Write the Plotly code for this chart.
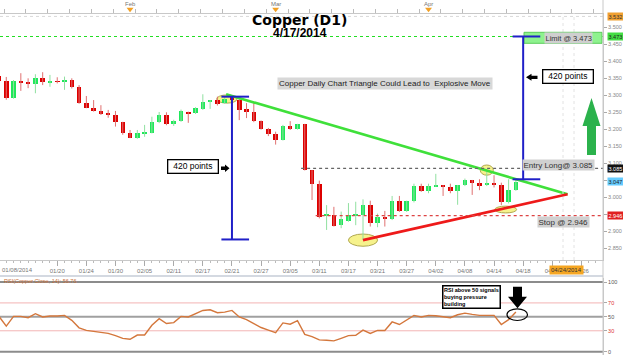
import plotly.graph_objects as go

# ---------------- data ----------------
dates = ["01/08", "01/09", "01/10", "01/13", "01/14", "01/15", "01/16", "01/17",
         "01/20", "01/21", "01/22", "01/23", "01/24", "01/27", "01/28", "01/29", "01/30", "01/31",
         "02/03", "02/04", "02/05", "02/06", "02/07", "02/10", "02/11", "02/12", "02/13", "02/14",
         "02/17", "02/18", "02/19", "02/20", "02/21", "02/24", "02/25", "02/26", "02/27", "02/28",
         "03/03", "03/04", "03/05", "03/06", "03/07", "03/10", "03/11", "03/12", "03/13", "03/14",
         "03/17", "03/18", "03/19", "03/20", "03/21", "03/24", "03/25", "03/26", "03/27", "03/28", "03/31",
         "04/01", "04/02", "04/03", "04/04", "04/07", "04/08", "04/09", "04/10", "04/11",
         "04/14", "04/15", "04/16", "04/17"]

opens = [3.358, 3.342, 3.293, 3.342, 3.338, 3.332, 3.352, 3.338, 3.342, 3.340,
         3.345, 3.324, 3.278, 3.262, 3.254, 3.247, 3.242, 3.222, 3.190, 3.175,
         3.188, 3.188, 3.221, 3.242, 3.217, 3.224, 3.252, 3.248, 3.260, 3.281,
         3.286, 3.278, 3.296, 3.286, 3.260, 3.250, 3.224, 3.201, 3.187, 3.169,
         3.211, 3.200, 3.215, 3.080, 3.039, 2.945, 2.948, 2.919, 2.931, 2.946,
         2.948, 2.977, 2.924, 2.943, 2.936, 2.989, 2.960, 2.989, 3.033, 3.019,
         3.033, 3.036, 3.029, 3.019, 3.036, 3.051, 3.041, 3.037, 3.041, 3.036,
         2.987, 3.021]
highs = [3.371, 3.354, 3.345, 3.365, 3.350, 3.362, 3.368, 3.360, 3.353, 3.355,
         3.350, 3.330, 3.298, 3.286, 3.271, 3.257, 3.254, 3.222, 3.198, 3.198,
         3.213, 3.237, 3.251, 3.250, 3.228, 3.258, 3.252, 3.265, 3.303, 3.286,
         3.296, 3.298, 3.300, 3.291, 3.277, 3.277, 3.226, 3.204, 3.193, 3.213,
         3.224, 3.216, 3.216, 3.080, 3.049, 2.977, 2.972, 2.958, 2.983, 2.987,
         2.994, 2.990, 2.952, 2.960, 3.004, 3.004, 2.990, 3.040, 3.040, 3.040,
         3.069, 3.036, 3.040, 3.036, 3.055, 3.051, 3.053, 3.075, 3.065, 3.043,
         3.053, 3.051]
lows = [3.342, 3.287, 3.290, 3.313, 3.321, 3.306, 3.330, 3.325, 3.335, 3.316,
        3.320, 3.275, 3.262, 3.252, 3.242, 3.234, 3.208, 3.184, 3.174, 3.172,
        3.178, 3.188, 3.218, 3.212, 3.210, 3.222, 3.219, 3.245, 3.257, 3.260,
        3.270, 3.275, 3.282, 3.227, 3.233, 3.221, 3.199, 3.180, 3.155, 3.167,
        3.198, 3.199, 3.079, 2.992, 2.938, 2.904, 2.914, 2.909, 2.928, 2.918,
        2.874, 2.914, 2.912, 2.914, 2.933, 2.957, 2.957, 2.985, 3.016, 3.012,
        3.031, 3.004, 3.012, 2.978, 3.033, 3.007, 3.021, 3.033, 3.029, 2.977,
        2.982, 3.019]
closes = [3.342, 3.291, 3.342, 3.338, 3.332, 3.352, 3.338, 3.342, 3.340, 3.345,
          3.324, 3.278, 3.262, 3.254, 3.246, 3.241, 3.222, 3.188, 3.175, 3.190,
          3.193, 3.221, 3.242, 3.216, 3.225, 3.254, 3.247, 3.262, 3.281, 3.286,
          3.274, 3.288, 3.286, 3.257, 3.250, 3.224, 3.201, 3.187, 3.169, 3.211,
          3.200, 3.215, 3.080, 3.039, 2.943, 2.950, 2.916, 2.935, 2.948, 2.950,
          2.977, 2.924, 2.943, 2.936, 2.989, 2.960, 2.989, 3.033, 3.019, 3.033,
          3.036, 3.029, 3.019, 3.036, 3.051, 3.041, 3.036, 3.041, 3.038, 2.987,
          3.021, 3.046]
rsi = [50.7, 36.6, 50.7, 50.7, 48.8, 54.5, 49.8, 51.2, 51.2, 52.1,
       45.0, 34.3, 30.5, 29.1, 27.7, 26.3, 23.0, 19.2, 17.8, 23.9,
       23.9, 38.0, 47.4, 40.4, 41.8, 50.7, 49.8, 54.5, 59.2, 60.1,
       55.9, 56.8, 59.2, 49.8, 46.0, 40.4, 34.7, 31.0, 27.2, 41.3,
       39.4, 44.6, 24.9, 21.6, 16.9, 16.4, 15.5, 19.2, 23.0, 23.5,
       31.0, 26.3, 30.5, 30.5, 42.7, 39.0, 45.0, 52.1, 49.8, 52.1,
       51.6, 50.7, 48.8, 53.0, 55.4, 53.5, 52.1, 52.1, 52.1, 39.0,
       46.0, 56.8]

date_tick_idx = [8, 12, 16, 20, 24, 28, 32, 36, 40, 44, 48, 52, 56, 60, 64, 68, 72, 76, 80]
date_tick_text = ["01/20", "01/24", "01/30", "02/05", "02/11", "02/17", "02/21", "02/27",
                  "03/05", "03/11", "03/17", "03/21", "03/27", "04/02", "04/08", "04/14",
                  "04/18", "04/22", "04/26"]
month_names = ["Feb", "Mar", "Apr"]
month_idx = [18, 38, 59]

price_ticks = [2.85, 2.90, 2.95, 3.00, 3.05, 3.10, 3.15, 3.20, 3.25, 3.30, 3.35, 3.40, 3.45, 3.50]
rsi_ticks = [0, 30, 50, 70, 100]

top_level = 3.532
limit_level = 3.473
entry_level = 3.085
stop_level = 2.946
last_level = 3.047
measured_move = 0.42

upper_start = (31.2, 3.303)
apex = (78.1, 3.009)
lower_start = (50.0, 2.874)
left_move_x, left_move_top = 32.0, 3.296
right_move_x = 72.0
cursor_idx = 78

# ---------------- layout geometry ----------------
W, H = 623, 355
PLOT_R = 603
X_PX0, X_PXD = -1.0, 7.28
P_REF, P_YREF, P_SCALE = 3.5, 27.3, 340.0
R_Y0, R_SCALE = 351.7, 0.697
PANE_TOP, PANE_BOT = 13, 260
RSI_TOP, RSI_BOT = 278, 355


def idx_at(px):
    return (px - X_PX0) / X_PXD


def price_at(py):
    return P_REF - (py - P_YREF) / P_SCALE


def rsi_at(py):
    return (R_Y0 - py) / R_SCALE


def fx(px):
    return px / W


def fy(py):
    return 1 - py / H


FONT = "Liberation Sans, Arial, sans-serif"
n = len(closes)
xs = list(range(n))

RED = "#dd0000"
GREEN = "#1fe85a"
RED_WICK = "#e07070"
GREEN_WICK = "#90e0a0"

fig = go.Figure()

# wicks
for up, col in [(True, GREEN_WICK), (False, RED_WICK)]:
    wx, wy = [], []
    for i in xs:
        if (closes[i] >= opens[i]) == up:
            wx += [i, i, None]
            wy += [lows[i], highs[i], None]
    fig.add_trace(go.Scatter(x=wx, y=wy, mode="lines", line=dict(color=col, width=1),
                             hoverinfo="skip", showlegend=False, xaxis="x", yaxis="y"))

# bodies
bases = [min(o, c) for o, c in zip(opens, closes)]
hts = [max(abs(c - o), 0.0018) for o, c in zip(opens, closes)]
cols = [GREEN if c >= o else RED for o, c in zip(opens, closes)]
fig.add_trace(go.Bar(x=xs, y=hts, base=bases, width=0.62, marker=dict(color=cols, line=dict(width=0)),
                     customdata=dates, hovertemplate="%{customdata}<extra></extra>",
                     showlegend=False, xaxis="x", yaxis="y"))

# triangle lines
fig.add_trace(go.Scatter(x=[upper_start[0], apex[0]], y=[upper_start[1], apex[1]], mode="lines",
                         line=dict(color="#3fe03a", width=2.6), showlegend=False, hoverinfo="skip"))
fig.add_trace(go.Scatter(x=[lower_start[0], apex[0]], y=[lower_start[1], apex[1]], mode="lines",
                         line=dict(color="#ee1a1a", width=2.6), showlegend=False, hoverinfo="skip"))

# RSI line
fig.add_trace(go.Scatter(x=xs, y=rsi, mode="lines", line=dict(color="#d4773c", width=1.4),
                         showlegend=False, xaxis="x2", yaxis="y2", hoverinfo="skip"))

# month markers on top strip
fig.add_trace(go.Scatter(x=month_idx, y=[0.28] * len(month_idx), mode="markers",
                         marker=dict(symbol="triangle-down", size=6, color="#f2a024"),
                         showlegend=False, xaxis="x3", yaxis="y3", hoverinfo="skip"))

shapes = []
# ellipses (behind candles)
ell_style = dict(type="circle", xref="x", yref="y", layer="below",
                 fillcolor="#f6f28c", line=dict(color="#b0a850", width=1))
for cx, cy, rx, ry in [(31.3, 3.289, 1.4, 0.012), (50.0, 2.874, 2.0, 0.018),
                       (67.0, 3.080, 0.9, 0.015), (69.6, 2.964, 1.5, 0.010)]:
    shapes.append(dict(ell_style, x0=cx - rx, x1=cx + rx, y0=cy - ry, y1=cy + ry))

x_right = idx_at(PLOT_R)
# faint top line and cursor lines
shapes.append(dict(type="line", xref="x", yref="y", x0=idx_at(0), x1=x_right, y0=top_level, y1=top_level,
                   line=dict(color="#d8d8d8", width=1, dash="dot")))
for cpx in [563, 574]:
    shapes.append(dict(type="line", xref="x", yref="y", x0=idx_at(cpx), x1=idx_at(cpx),
                       y0=price_at(PANE_BOT), y1=price_at(PANE_TOP),
                       line=dict(color="#e2e2e2", width=1, dash="dot")))
# level lines
shapes.append(dict(type="line", xref="x", yref="y", x0=idx_at(0), x1=x_right, y0=limit_level, y1=limit_level,
                   line=dict(color="#22dd22", width=1.2, dash="dot")))
shapes.append(dict(type="line", xref="x", yref="y", x0=41.5, x1=x_right, y0=entry_level, y1=entry_level,
                   line=dict(color="#666666", width=1.2, dash="dot")))
shapes.append(dict(type="line", xref="x", yref="y", x0=43.5, x1=x_right, y0=stop_level, y1=stop_level,
                   line=dict(color="#dd4444", width=1.2, dash="dot")))
# limit green box
shapes.append(dict(type="rect", xref="x", yref="y", x0=idx_at(524), x1=idx_at(602),
                   y0=price_at(43.3), y1=price_at(32.3), fillcolor="#8ef28e",
                   line=dict(color="#5acc5a", width=1)))
# measured-move blue lines
BLUE = "#2020c8"
for mx, top in [(left_move_x, left_move_top), (right_move_x, limit_level)]:
    bot = top - measured_move
    shapes.append(dict(type="line", xref="x", yref="y", x0=mx, x1=mx, y0=bot, y1=top,
                       line=dict(color=BLUE, width=2)))
    for lvl in (top, bot):
        shapes.append(dict(type="line", xref="x", yref="y", x0=mx - 1.45, x1=mx + 2.35, y0=lvl, y1=lvl,
                           line=dict(color=BLUE, width=2)))


def ppath(pts):
    return "M " + " L ".join(f"{fx(a):.5f},{fy(b):.5f}" for a, b in pts) + " Z"


# green up arrow
shapes.append(dict(type="path", xref="paper", yref="paper", fillcolor="#2bb24c", line=dict(width=0),
                   path=ppath([(591.5, 98), (600.5, 126), (596, 126), (596, 155), (587, 155),
                               (587, 126), (582.5, 126)])))
# small black arrows next to "420 points"
shapes.append(dict(type="path", xref="paper", yref="paper", fillcolor="black", line=dict(width=0),
                   path=ppath([(221, 166.6), (225, 166.6), (225, 164.5), (229.5, 168.3),
                               (225, 172), (225, 170), (221, 170)])))
shapes.append(dict(type="path", xref="paper", yref="paper", fillcolor="black", line=dict(width=0),
                   path=ppath([(537.5, 75.7), (531.5, 75.7), (531.5, 73.8), (526, 77.3),
                               (531.5, 80.8), (531.5, 79), (537.5, 79)])))
# RSI pane guide lines
for lvl, col, wd in [(100, "#8c8c8c", 2), (70, "#f3b4b4", 1), (50, "#a0a0a0", 2),
                     (30, "#f3b4b4", 1), (0, "#8c8c8c", 2)]:
    shapes.append(dict(type="line", xref="x2", yref="y2", x0=idx_at(0), x1=x_right, y0=lvl, y1=lvl,
                       line=dict(color=col, width=wd), layer="below"))
# black down arrow in RSI pane
shapes.append(dict(type="path", xref="paper", yref="paper", fillcolor="black", line=dict(width=0),
                   path=ppath([(513, 286.7), (522, 286.7), (522, 296.7), (527, 296.7), (517.5, 308.3),
                               (508, 296.7), (513, 296.7)])))
shapes.append(dict(type="circle", xref="paper", yref="paper", x0=fx(507), x1=fx(527.5), y0=fy(320.5),
                   y1=fy(308.8), line=dict(color="black", width=1.2)))
# separator below date axis
shapes.append(dict(type="line", xref="paper", yref="paper", x0=0, x1=fx(PLOT_R), y0=fy(276), y1=fy(276),
                   line=dict(color="#a9b3c4", width=1.2)))
shapes.append(dict(type="line", xref="paper", yref="paper", x0=fx(PLOT_R), x1=fx(PLOT_R), y0=fy(RSI_BOT),
                   y1=fy(0), line=dict(color="#c8c8c8", width=1)))

ann = []


def note(x, y, text, xanchor="center", yanchor="middle", xref="paper", yref="paper", **kw):
    ann.append(dict(x=x, y=y, xref=xref, yref=yref, text=text, showarrow=False,
                    xanchor=xanchor, yanchor=yanchor, **kw))


# titles
note(fx(299.5), fy(19.5), "<b>Copper (D1)</b>",
     font=dict(family="DejaVu Sans, sans-serif", size=14, color="black"))
note(fx(299.5), fy(32.8), "<b>4/17/2014</b>", font=dict(family=FONT, size=12, color="black"))
note(fx(384.5), fy(83.5), "Copper Daily Chart Triangle Could Lead to  Explosive Move",
     bgcolor="#d8d8d8", borderpad=1, font=dict(family=FONT, size=8, color="#222"))
# 420 points boxes
for cx, cy in [(192.5, 166), (567.5, 77)]:
    note(fx(cx), fy(cy), "420 points", width=47, height=10, borderpad=1, bordercolor="black",
         borderwidth=1.3, bgcolor="white", font=dict(family=FONT, size=8.5, color="black"))
# level labels
note(fx(568), fy(38.5), "Limit @ 3.473", bgcolor="#cfcfcf", borderpad=0.5,
     font=dict(family=FONT, size=7.5, color="#333"))
note(fx(595), fy(164.5), "Entry Long@ 3.085", xanchor="right", bgcolor="#d0d0d0", borderpad=0.5,
     font=dict(family=FONT, size=8, color="#333"))
note(fx(590), fy(222), "Stop @ 2.946", xanchor="right", bgcolor="#d0d0d0", borderpad=0.5,
     font=dict(family=FONT, size=8, color="#333"))
# highlighted axis labels
for lvl, bg, fg in [(top_level, "#f0a030", "#333"), (limit_level, "#44dd44", "#222"),
                    (entry_level, "#111111", "white"), (last_level, "#66ccff", "#222"),
                    (stop_level, "#e02020", "white")]:
    note(fx(PLOT_R + 3.5), lvl, f"{lvl:.3f}", xanchor="left", yref="y", bgcolor=bg, borderpad=0.5,
         font=dict(family=FONT, size=5.5, color=fg))
# date axis extras
note(0, fy(270), "01/08/2014", xanchor="left", font=dict(family=FONT, size=6, color="#777"))
note(cursor_idx, fy(270), "04/24/2014", xref="x", bgcolor="#f5a623", borderpad=1,
     font=dict(family=FONT, size=6, color="#333"))
# month labels
for m, i in zip(month_names, month_idx):
    note(i, fy(4), m, xref="x", font=dict(family=FONT, size=6, color="#777"))
# RSI labels
note(fx(2), fy(281), "RSI(Copper Close, 14): 56.76", xanchor="left",
     font=dict(family=FONT, size=5.5, color="#c8703a"))
note(fx(471), fy(297), "<b>RSI above 50 signals<br>buying pressure<br>building</b>", align="left",
     width=55, height=20, borderpad=0.5, bordercolor="black", borderwidth=1.5, bgcolor="white",
     font=dict(family=FONT, size=5.5, color="black"))

rsi_text = []
for t in rsi_ticks:
    c = "#dd3333" if t in (30, 70) else "#555"
    rsi_text.append(f"<span style='color:{c}'>{t}</span>")

fig.update_layout(
    width=W, height=H, margin=dict(l=0, r=0, t=0, b=0),
    paper_bgcolor="white", plot_bgcolor="white", showlegend=False,
    bargap=0, shapes=shapes, annotations=ann,
    xaxis=dict(domain=[0, fx(PLOT_R)], range=[idx_at(0), x_right], anchor="y",
               tickmode="array", tickvals=date_tick_idx, ticktext=date_tick_text,
               tickfont=dict(family=FONT, size=6, color="#777"), ticks="outside", ticklen=5,
               tickcolor="#aaa", showline=True, linecolor="#c8c8c8", showgrid=False, zeroline=False,
               minor=dict(ticks="outside", ticklen=2, dtick=1, tick0=0, tickcolor="#bbb", showgrid=False),
               automargin=False),
    yaxis=dict(domain=[fy(PANE_BOT), fy(PANE_TOP)], range=[price_at(PANE_BOT), price_at(PANE_TOP)],
               side="right", anchor="x", tickmode="array", tickvals=price_ticks,
               ticktext=[f"{v:.3f}" for v in price_ticks],
               tickfont=dict(family=FONT, size=5.5, color="#888"), ticks="outside", ticklen=3,
               tickcolor="#aaa", showline=True, linecolor="#c8c8c8", showgrid=False, zeroline=False,
               automargin=False),
    xaxis2=dict(domain=[0, fx(PLOT_R)], matches="x", anchor="y2", showticklabels=False,
                showgrid=False, zeroline=False, showline=False, ticks=""),
    yaxis2=dict(domain=[0, fy(RSI_TOP)], range=[rsi_at(RSI_BOT), rsi_at(RSI_TOP)], side="right",
                anchor="x2", tickmode="array", tickvals=rsi_ticks, ticktext=rsi_text,
                tickfont=dict(family=FONT, size=5.5, color="#555"), ticks="outside", ticklen=3,
                tickcolor="#aaa", showline=True, linecolor="#c8c8c8", showgrid=False, zeroline=False,
                automargin=False),
    xaxis3=dict(domain=[0, fx(PLOT_R)], matches="x", anchor="y3", showticklabels=False,
                showgrid=False, zeroline=False, showline=True, linecolor="#c8c8c8",
                ticks="inside", ticklen=4, tickmode="linear", dtick=3, tick0=0.7, tickcolor="#bbb"),
    yaxis3=dict(domain=[fy(PANE_TOP), 1], range=[0, 1], visible=False),
)

fig.write_html("out.html", config={"displayModeBar": False},
               post_script="document.body.style.margin='0px';")
